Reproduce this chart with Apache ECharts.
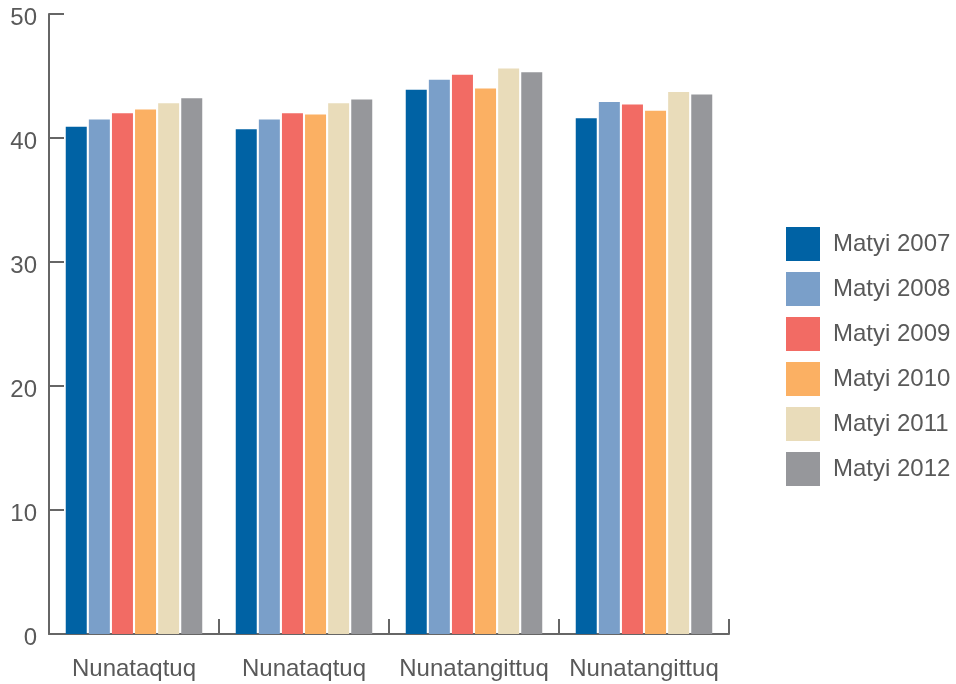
<!DOCTYPE html>
<html>
<head>
<meta charset="utf-8">
<script src="https://cdn.jsdelivr.net/npm/echarts@6/dist/echarts.min.js"></script>
<style>
html,body{margin:0;padding:0;background:#fff;}
#chart{width:956px;height:684px;}
</style>
</head>
<body>
<div id="chart"></div>
<script>
const categories = ['Nunataqtuq', 'Nunataqtuq', 'Nunatangittuq', 'Nunatangittuq'];
const seriesNames = ['Matyi 2007', 'Matyi 2008', 'Matyi 2009', 'Matyi 2010', 'Matyi 2011', 'Matyi 2012'];
const v2007 = [40.9, 40.7, 43.9, 41.6];
const v2008 = [41.5, 41.5, 44.7, 42.9];
const v2009 = [42.0, 42.0, 45.1, 42.7];
const v2010 = [42.3, 41.9, 44.0, 42.2];
const v2011 = [42.8, 42.8, 45.6, 43.7];
const v2012 = [43.2, 43.1, 45.3, 43.5];
const yTicks = [0, 10, 20, 30, 40, 50];

const colors = ['#0062A4', '#7A9FC9', '#F26B64', '#FBB063', '#E9DCBA', '#96979B'];
const allValues = [v2007, v2008, v2009, v2010, v2011, v2012];
const font = 'Arial, "Liberation Sans", Helvetica, sans-serif';
const textColor = '#595959';
const axisColor = '#666666';

const chart = echarts.init(document.getElementById('chart'), null, {renderer: 'canvas'});
chart.setOption({
  animation: false,
  backgroundColor: '#ffffff',
  color: colors,
  textStyle: {fontFamily: font},
  grid: {left: 49, right: 227, top: 14, bottom: 50, containLabel: false},
  legend: {
    orient: 'vertical',
    left: 786,
    top: 227,
    padding: 0,
    itemWidth: 34,
    itemHeight: 34,
    itemGap: 11,
    icon: 'rect',
    data: seriesNames,
    textStyle: {fontSize: 24, color: textColor, fontFamily: font, padding: [0, 0, 0, 8]}
  },
  xAxis: {
    type: 'category',
    data: categories,
    axisLine: {show: true, lineStyle: {color: axisColor, width: 2}},
    axisTick: {show: true, inside: true, length: 15, alignWithLabel: false, lineStyle: {color: axisColor, width: 2}},
    axisLabel: {fontSize: 24, color: textColor, fontFamily: font, margin: 23, interval: 0},
    splitLine: {show: false}
  },
  yAxis: {
    type: 'value',
    min: yTicks[0],
    max: yTicks[yTicks.length - 1],
    interval: 10,
    axisLine: {show: true, lineStyle: {color: axisColor, width: 2}},
    axisTick: {show: true, inside: true, length: 15, lineStyle: {color: axisColor, width: 2}},
    axisLabel: {fontSize: 24, color: textColor, fontFamily: font, margin: 12, verticalAlign: 'top', lineHeight: 8},
    splitLine: {show: false}
  },
  series: seriesNames.map((name, i) => ({
    name: name,
    type: 'bar',
    data: allValues[i],
    barWidth: 21,
    barGap: '10%',
    itemStyle: {color: colors[i]}
  }))
});
</script>
</body>
</html>
